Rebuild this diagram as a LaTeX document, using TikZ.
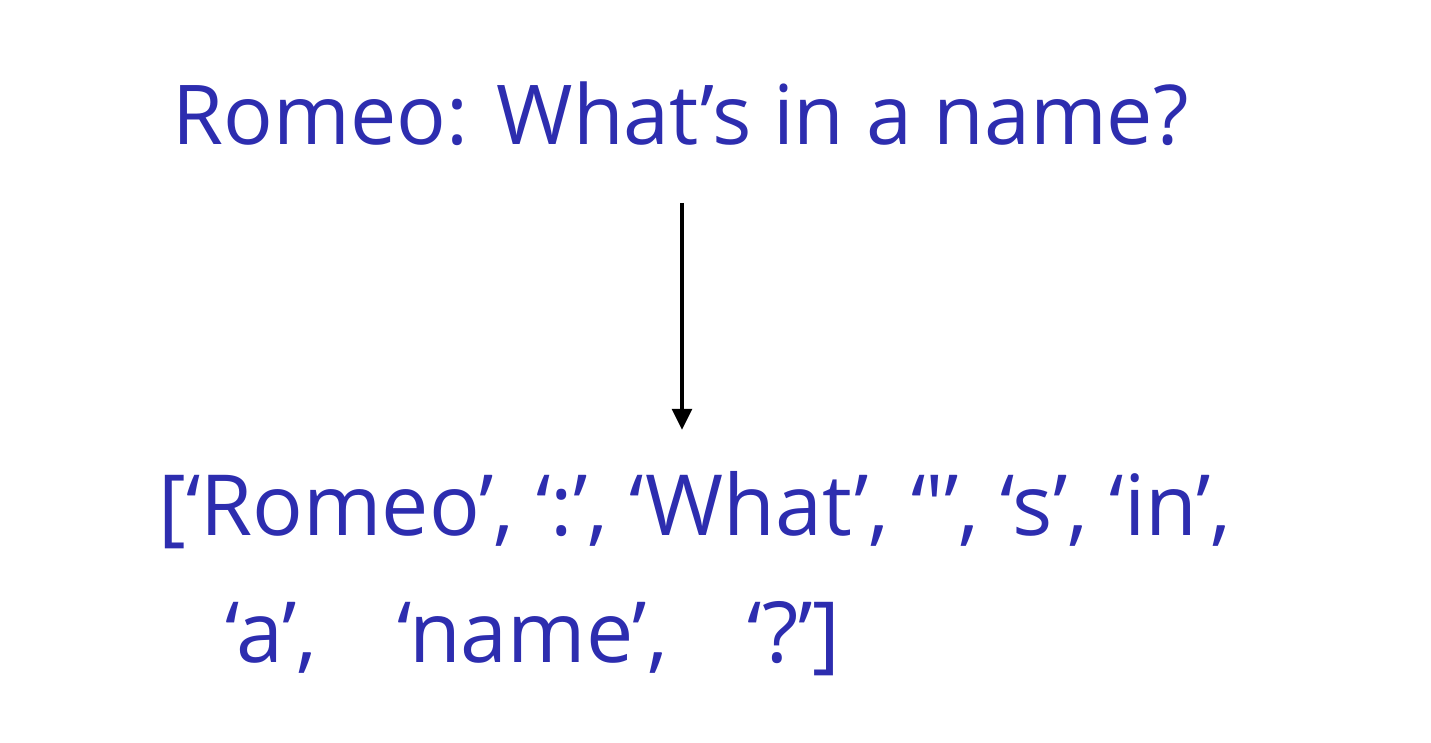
\documentclass[tikz,border=0pt]{standalone}
\usepackage{fontspec}
\setmainfont{Open Sans}
\usetikzlibrary{arrows.meta}
\definecolor{inkblue}{RGB}{45,45,175}
\tikzset{
    hand/.style={text=inkblue, inner sep=0pt, font=\fontsize{48}{58}\selectfont},
    flow/.style={-{Triangle[length=12pt,width=11pt]}, line width=2.5pt}
}
\newcommand{\gap}{\hspace{1.6cm}}
\begin{document}
\begin{tikzpicture}[x=0.02cm, y=-0.02cm]
    \useasboundingbox (0,0) rectangle (1431,743);
    % sentence
    \node[hand, anchor=base west, font=\fontsize{47}{56}\selectfont] (title) at (172,145) {Romeo: What's in a name?};
    % tokens
    \node[hand, anchor=base west] (tokensA) at (158,535) {[‘Romeo’, ‘:’, ‘What’, ‘\textquotesingle’, ‘s’, ‘in’,};
    \node[hand, anchor=base west] (tokensB) at (225,662) {‘a’,\gap‘name’,\gap‘?’]};
    % arrow
    \coordinate (top) at (682,203);
    \coordinate (bottom) at (682,430);
    \draw[flow] (top) -- (bottom);
\end{tikzpicture}
\end{document}
